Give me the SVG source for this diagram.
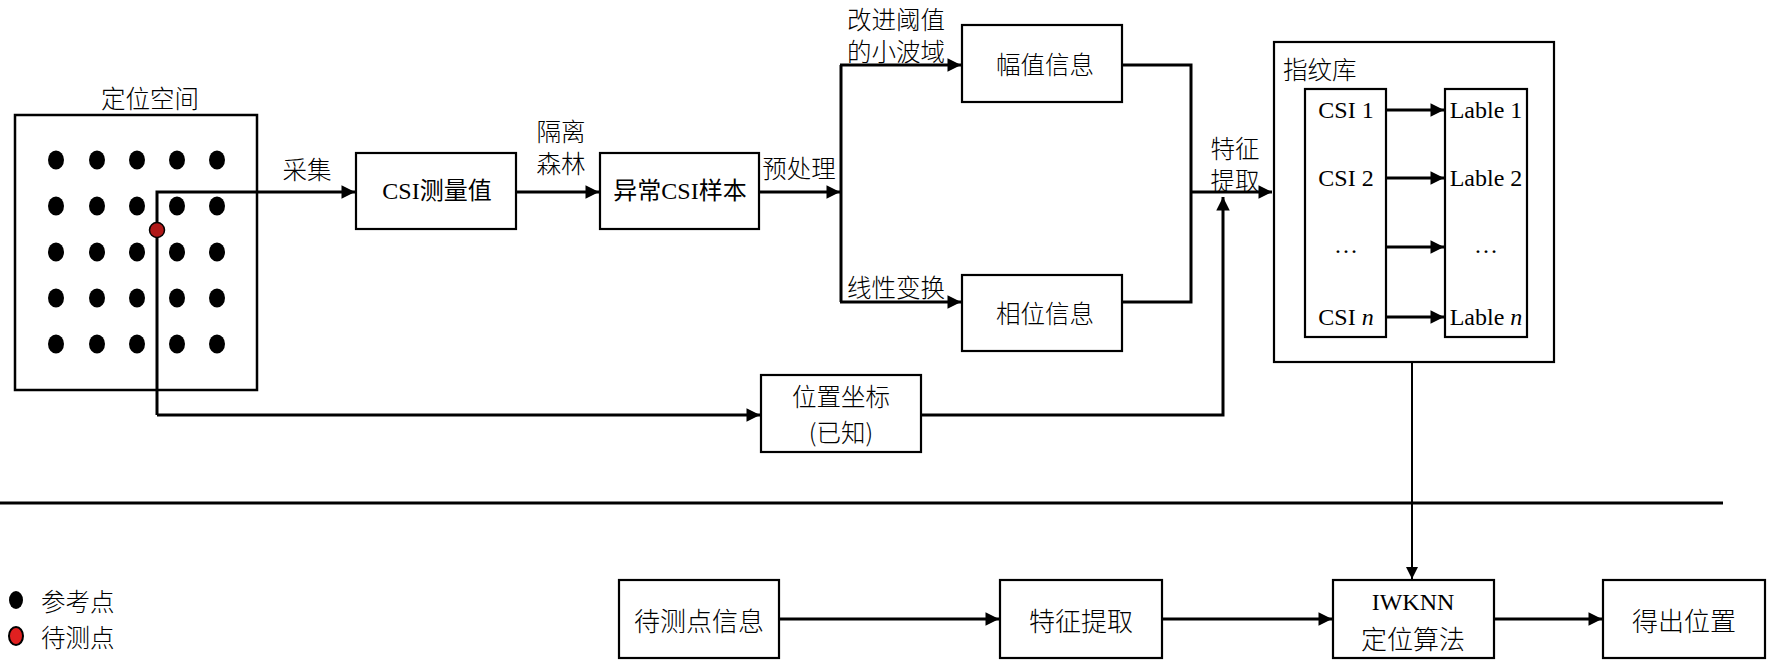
<svg xmlns="http://www.w3.org/2000/svg" width="1772" height="661" viewBox="0 0 1772 661">
<defs>
<style>
.box{fill:#fff;stroke:#000;stroke-width:2.2}
.ln{fill:none;stroke:#000;stroke-width:3}
.thin{fill:none;stroke:#000;stroke-width:2}
.t{font-family:"Liberation Serif","Noto Sans CJK SC",serif;font-size:24px;fill:#000;text-anchor:middle;dominant-baseline:central}
.c{font-family:"Noto Sans CJK SC","Liberation Sans",sans-serif;font-size:24.5px;font-weight:300;fill:#000;text-anchor:middle;dominant-baseline:central}
.cb{font-size:26px}
.dot{fill:#000}
</style>
<marker id="ah" viewBox="0 0 10 10" refX="10" refY="5" markerWidth="5" markerHeight="4.5" markerUnits="strokeWidth" orient="auto">
<path d="M0,0 L10,5 L0,10 z" fill="#000"/>
</marker>
<marker id="ahs" viewBox="0 0 10 10" refX="10" refY="5" markerWidth="6" markerHeight="6" markerUnits="strokeWidth" orient="auto">
<path d="M0,0 L10,5 L0,10 z" fill="#000"/>
</marker>
</defs>
<rect width="1772" height="661" fill="#fff"/>

<g id="space">
<rect x="15" y="115" width="242" height="275" fill="#fff" stroke="#000" stroke-width="2.5"/>
<text class="c" x="150" y="97">定位空间</text>
<g class="dot">
<ellipse cx="56" cy="160" rx="8" ry="9.5"/><ellipse cx="97" cy="160" rx="8" ry="9.5"/><ellipse cx="137" cy="160" rx="8" ry="9.5"/><ellipse cx="177" cy="160" rx="8" ry="9.5"/><ellipse cx="217" cy="160" rx="8" ry="9.5"/>
<ellipse cx="56" cy="206" rx="8" ry="9.5"/><ellipse cx="97" cy="206" rx="8" ry="9.5"/><ellipse cx="137" cy="206" rx="8" ry="9.5"/><ellipse cx="177" cy="206" rx="8" ry="9.5"/><ellipse cx="217" cy="206" rx="8" ry="9.5"/>
<ellipse cx="56" cy="252" rx="8" ry="9.5"/><ellipse cx="97" cy="252" rx="8" ry="9.5"/><ellipse cx="137" cy="252" rx="8" ry="9.5"/><ellipse cx="177" cy="252" rx="8" ry="9.5"/><ellipse cx="217" cy="252" rx="8" ry="9.5"/>
<ellipse cx="56" cy="298" rx="8" ry="9.5"/><ellipse cx="97" cy="298" rx="8" ry="9.5"/><ellipse cx="137" cy="298" rx="8" ry="9.5"/><ellipse cx="177" cy="298" rx="8" ry="9.5"/><ellipse cx="217" cy="298" rx="8" ry="9.5"/>
<ellipse cx="56" cy="344" rx="8" ry="9.5"/><ellipse cx="97" cy="344" rx="8" ry="9.5"/><ellipse cx="137" cy="344" rx="8" ry="9.5"/><ellipse cx="177" cy="344" rx="8" ry="9.5"/><ellipse cx="217" cy="344" rx="8" ry="9.5"/>
</g>
</g>

<g id="csi-measure"><rect class="box" x="356" y="153" width="160" height="76"/><text class="t" x="437" y="191">CSI测量值</text></g>
<g id="abnormal"><rect class="box" x="600" y="153" width="159" height="76"/><text class="t" x="680" y="191">异常CSI样本</text></g>
<g id="amplitude"><rect class="box" x="962" y="25" width="160" height="77"/><text class="c" x="1045" y="63">幅值信息</text></g>
<g id="phase"><rect class="box" x="962" y="275" width="160" height="76"/><text class="c" x="1045" y="312">相位信息</text></g>
<g id="position"><rect class="box" x="761" y="375" width="160" height="77"/><text class="c" x="841" y="395">位置坐标</text><text class="c" x="841" y="431">(已知)</text></g>

<g id="fingerprint">
<rect class="box" x="1274" y="42" width="280" height="320"/>
<text class="c" x="1283" y="68" style="text-anchor:start">指纹库</text>
<rect class="box" x="1305" y="89" width="81" height="248"/>
<rect class="box" x="1445" y="89" width="82" height="248"/>
<text class="t" x="1346" y="110">CSI 1</text>
<text class="t" x="1346" y="178">CSI 2</text>
<text class="t" x="1346" y="245">…</text>
<text class="t" x="1346" y="317">CSI <tspan font-style="italic">n</tspan></text>
<text class="t" x="1486" y="110">Lable 1</text>
<text class="t" x="1486" y="178">Lable 2</text>
<text class="t" x="1486" y="245">…</text>
<text class="t" x="1486" y="317">Lable <tspan font-style="italic">n</tspan></text>
</g>

<g id="test-info"><rect class="box" x="619" y="580" width="160" height="78"/><text class="c cb" x="699" y="619">待测点信息</text></g>
<g id="feature"><rect class="box" x="1000" y="580" width="162" height="78"/><text class="c cb" x="1081" y="619">特征提取</text></g>
<g id="iwknn"><rect class="box" x="1333" y="580" width="161" height="78"/><text class="t" x="1413" y="602">IWKNN</text><text class="c cb" x="1413" y="637">定位算法</text></g>
<g id="result"><rect class="box" x="1603" y="580" width="162" height="78"/><text class="c cb" x="1684" y="619">得出位置</text></g>

<g id="legend">
<ellipse cx="16" cy="600" rx="7" ry="9" fill="#000"/>
<ellipse cx="16" cy="636" rx="7" ry="9" fill="#e02020" stroke="#000" stroke-width="2"/>
<text class="c" x="41" y="600" style="text-anchor:start">参考点</text>
<text class="c" x="41" y="636" style="text-anchor:start">待测点</text>
</g>

<g id="labels">
<text class="c" x="307" y="168">采集</text>
<text class="c" x="561" y="130">隔离</text>
<text class="c" x="561" y="162">森林</text>
<text class="c" x="799" y="167">预处理</text>
<text class="c" x="896" y="18">改进阈值</text>
<text class="c" x="896" y="50">的小波域</text>
<text class="c" x="896" y="286">线性变换</text>
<text class="c" x="1235" y="147">特征</text>
<text class="c" x="1235" y="179">提取</text>
</g>

<g id="connectors">
<path class="ln" d="M157,415 V192 H355" marker-end="url(#ah)"/>
<path class="ln" d="M157,415 H760" marker-end="url(#ah)"/>
<path class="ln" d="M516,192 H599" marker-end="url(#ah)"/>
<path class="ln" d="M759,192 H840" marker-end="url(#ah)"/>
<path class="ln" d="M841,65 V302"/>
<path class="ln" d="M840,65 H961" marker-end="url(#ah)"/>
<path class="ln" d="M840,302 H961" marker-end="url(#ah)"/>
<path class="ln" d="M1122,65 H1191 V302 H1122"/>
<path class="ln" d="M1191,192 H1272" marker-end="url(#ah)"/>
<path class="ln" d="M921,415 H1223 V197" marker-end="url(#ah)"/>
<path class="ln" d="M1386,110 H1444" marker-end="url(#ah)"/>
<path class="ln" d="M1386,178 H1444" marker-end="url(#ah)"/>
<path class="ln" d="M1386,247 H1444" marker-end="url(#ah)"/>
<path class="ln" d="M1386,317 H1444" marker-end="url(#ah)"/>
<path class="thin" d="M1412,362 V579" marker-end="url(#ahs)"/>
<path class="ln" d="M0,503 H1723"/>
<path class="ln" d="M779,619 H999" marker-end="url(#ah)"/>
<path class="ln" d="M1162,619 H1332" marker-end="url(#ah)"/>
<path class="ln" d="M1494,619 H1602" marker-end="url(#ah)"/>
</g>
<circle cx="157" cy="230" r="7.5" fill="#b01818" stroke="#000" stroke-width="1.5"/>
</svg>
